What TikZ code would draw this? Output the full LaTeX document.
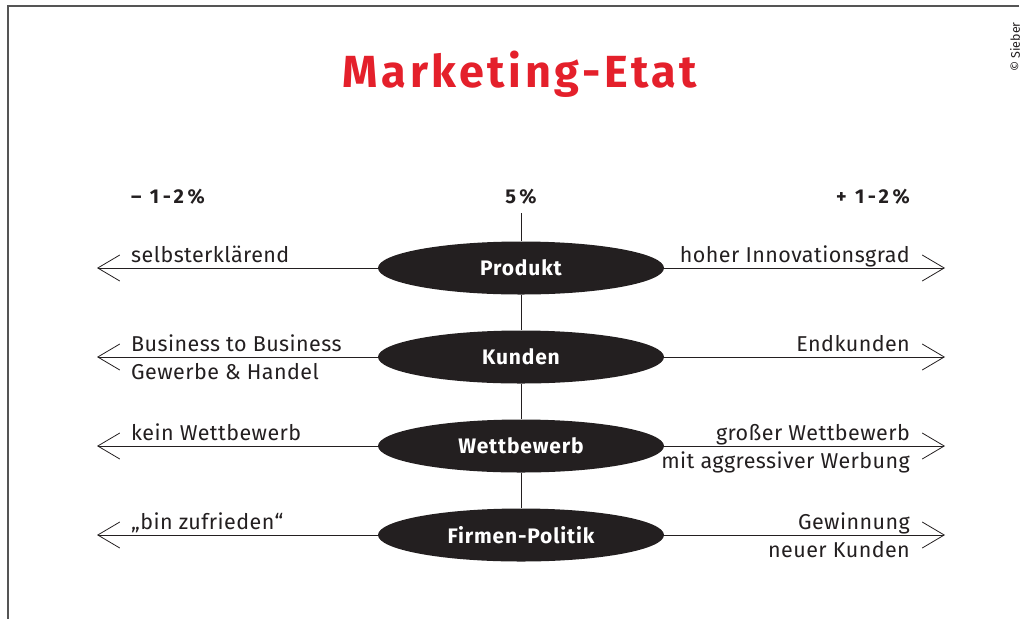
\documentclass[tikz,border=0pt]{standalone}
\usepackage{fontspec}
\setmainfont{Fira Sans}
\usetikzlibrary{shapes.geometric,arrows.meta}

\definecolor{etatred}{HTML}{E4202B}
\definecolor{inkdark}{HTML}{231F20}
\definecolor{framegray}{HTML}{555555}

\begin{document}
\begin{tikzpicture}[
    x=1pt, y=-1pt,
    topic/.style={ellipse, fill=inkdark, text=white, inner sep=0pt,
        minimum width=286pt, minimum height=53pt,
        font=\fontsize{21}{24}\selectfont\bfseries\addfontfeature{LetterSpace=4}},
    label/.style={inner sep=0pt, text=inkdark,
        font=\fontsize{21.5}{24}\selectfont\addfontfeature{LetterSpace=2}},
    head/.style={inner sep=0pt, text=inkdark,
        font=\fontsize{20}{23}\selectfont\bfseries\addfontfeature{LetterSpace=18}},
    axis/.style={thick, inkdark, -{Straight Barb[length=22pt,width=26pt]}},
    stem/.style={thick, inkdark}
]
    \useasboundingbox (0,0) rectangle (1024,619);
    % frame
    \draw[framegray, line width=2pt] (1019,6) -- (8,6) -- (8,619);
    \node[rotate=90, inner sep=0pt, text=inkdark,
        font=\fontsize{12.5}{14}\selectfont] (copy) at (1015,47) {© Sieber};

    % title and scale
    \node[anchor=base, inner sep=0pt, text=etatred,
        font=\fontsize{45}{50}\selectfont\bfseries\addfontfeature{LetterSpace=8}] (title) at (520,87) {Marketing-Etat};
    \node[head, anchor=base west] (minus) at (131,203) {– 1-2\%};
    \node[head, anchor=base] (mid) at (521,203) {5\%};
    \node[head, anchor=base east] (plus) at (910,203) {+ 1-2\%};
    \coordinate (top) at (521,213);

    % topics
    \node[topic] (produkt) at (521,268) {Produkt};
    \node[topic] (kunden) at (521,357) {Kunden};
    \node[topic] (wettbewerb) at (521,446) {Wettbewerb};
    \node[topic] (politik) at (521,535) {Firmen-Politik};

    % arrow ends
    \coordinate (l1) at (97,268);  \coordinate (r1) at (945,268);
    \coordinate (l2) at (97,357);  \coordinate (r2) at (945,357);
    \coordinate (l3) at (97,446);  \coordinate (r3) at (945,446);
    \coordinate (l4) at (97,535);  \coordinate (r4) at (945,535);

    \draw[stem] (top) -- (produkt.north);
    \draw[stem] (produkt.south) -- (kunden.north);
    \draw[stem] (kunden.south) -- (wettbewerb.north);
    \draw[stem] (wettbewerb.south) -- (politik.north);

    \draw[axis] (produkt.west) -- (l1);
    \draw[axis] (produkt.east) -- (r1);
    \draw[axis] (kunden.west) -- (l2);
    \draw[axis] (kunden.east) -- (r2);
    \draw[axis] (wettbewerb.west) -- (l3);
    \draw[axis] (wettbewerb.east) -- (r3);
    \draw[axis] (politik.west) -- (l4);
    \draw[axis] (politik.east) -- (r4);

    % left side
    \node[label, anchor=base west] (p-l) at (131,262) {selbsterklärend};
    \node[label, anchor=base west] (k-l) at (131,351) {Business to Business};
    \node[label, anchor=base west] (k-l2) at (131,379) {Gewerbe \& Handel};
    \node[label, anchor=base west] (w-l) at (131,440) {kein Wettbewerb};
    \node[label, anchor=base west] (f-l) at (131,529) {„bin zufrieden“};

    % right side
    \node[label, anchor=base east] (p-r) at (910,262) {hoher Innovationsgrad};
    \node[label, anchor=base east] (k-r) at (910,351) {Endkunden};
    \node[label, anchor=base east] (w-r) at (910,440) {großer Wettbewerb};
    \node[label, anchor=base east] (w-r2) at (910,468) {mit aggressiver Werbung};
    \node[label, anchor=base east] (f-r) at (910,529) {Gewinnung};
    \node[label, anchor=base east] (f-r2) at (910,557) {neuer Kunden};
\end{tikzpicture}
\end{document}
